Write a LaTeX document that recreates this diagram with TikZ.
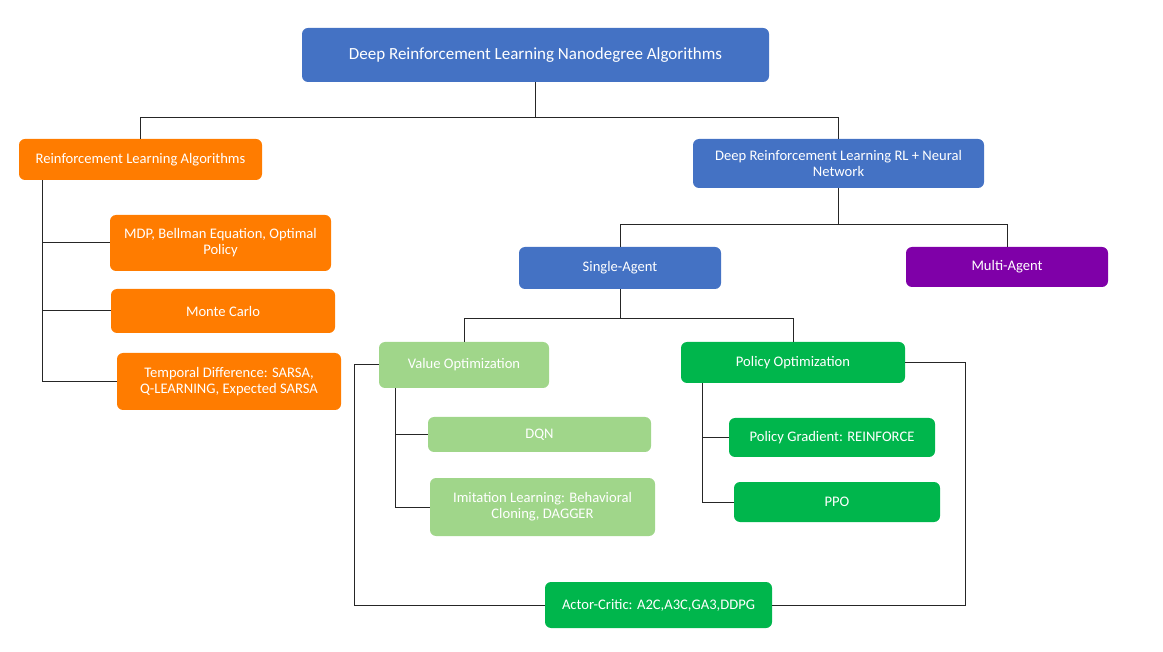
\documentclass[tikz,border=0pt]{standalone}
\usepackage{fontspec}
\setmainfont{Carlito}
\definecolor{drlblue}{RGB}{68,114,196}
\definecolor{rlorange}{RGB}{255,124,0}
\definecolor{mapurple}{RGB}{127,0,168}
\definecolor{valgreen}{RGB}{160,214,138}
\definecolor{polgreen}{RGB}{0,182,76}
\tikzset{
  box/.style={rounded corners=6pt, text=white, align=center, inner sep=2pt, font=\fontsize{14.6}{16}\selectfont},
  bluebox/.style={box, fill=drlblue},
  orangebox/.style={box, fill=rlorange},
  purplebox/.style={box, fill=mapurple},
  valbox/.style={box, fill=valgreen},
  polbox/.style={box, fill=polgreen},
  link/.style={draw=black!85, line width=1pt}
}
\begin{document}
\begin{tikzpicture}[x=1pt,y=-1pt]
\useasboundingbox (0,0) rectangle (1163,652);

\node[bluebox, minimum width=467pt, minimum height=54pt, font=\fontsize{17}{20}\selectfont] (root) at (535.5,55) {Deep Reinforcement Learning Nanodegree Algorithms};

\node[orangebox, minimum width=243pt, minimum height=41pt] (rl) at (140.5,159.5) {Reinforcement Learning Algorithms};
\node[bluebox, minimum width=291pt, minimum height=49pt] (drl) at (838.5,163.5) {Deep Reinforcement Learning RL + Neural\\Network};

\node[orangebox, minimum width=221pt, minimum height=56pt] (mdp) at (220.5,243) {MDP, Bellman Equation, Optimal\\Policy};
\node[orangebox, minimum width=224pt, minimum height=44pt] (mc) at (223,311) {Monte Carlo};
\node[orangebox, minimum width=224pt, minimum height=57pt] (td) at (229,381.5) {Temporal Difference: SARSA,\\Q-LEARNING, Expected SARSA};

\node[bluebox, minimum width=202pt, minimum height=42pt] (single) at (620,268) {Single-Agent};
\node[purplebox, minimum width=202pt, minimum height=40pt] (multi) at (1007,267) {Multi-Agent};

\node[valbox, minimum width=170pt, minimum height=46pt] (value) at (464,365) {Value Optimization};
\node[polbox, minimum width=224pt, minimum height=41pt] (policy) at (793,362.5) {Policy Optimization};

\node[valbox, minimum width=223pt, minimum height=35pt] (dqn) at (539.5,434.5) {DQN};
\node[valbox, minimum width=225pt, minimum height=58pt] (imit) at (542.5,507) {Imitation Learning: Behavioral\\Cloning, DAGGER};

\node[polbox, minimum width=206pt, minimum height=39pt] (pg) at (832,437.5) {Policy Gradient: REINFORCE};
\node[polbox, minimum width=206pt, minimum height=40pt] (ppo) at (837,502) {PPO};

\node[polbox, minimum width=227pt, minimum height=46pt] (ac) at (658.5,605) {Actor-Critic: A2C,A3C,GA3,DDPG};

% top level
\draw[link] (root.south) -- ++(0,35) -| (rl.north);
\draw[link] (root.south) -- ++(0,35) -| (drl.north);

% classic RL branch
\draw[link] ([xshift=24pt]rl.south west) |- (mdp.west);
\draw[link] ([xshift=24pt]rl.south west) |- (mc.west);
\draw[link] ([xshift=24pt]rl.south west) |- (td.west);

% deep RL branch
\draw[link] (drl.south) -- ++(0,36) -| (single.north);
\draw[link] (drl.south) -- ++(0,36) -| (multi.north);
\draw[link] (single.south) -- ++(0,29) -| (value.north);
\draw[link] (single.south) -- ++(0,29) -| (policy.north);

\draw[link] ([xshift=17pt]value.south west) |- (dqn.west);
\draw[link] ([xshift=17pt]value.south west) |- (imit.west);
\draw[link] ([xshift=22pt]policy.south west) |- (pg.west);
\draw[link] ([xshift=22pt]policy.south west) |- (ppo.west);

% actor-critic joins both
\draw[link] (value.west) -- ++(-24,0) |- (ac.west);
\draw[link] (policy.east) -- ++(60,0) |- (ac.east);
\end{tikzpicture}
\end{document}
